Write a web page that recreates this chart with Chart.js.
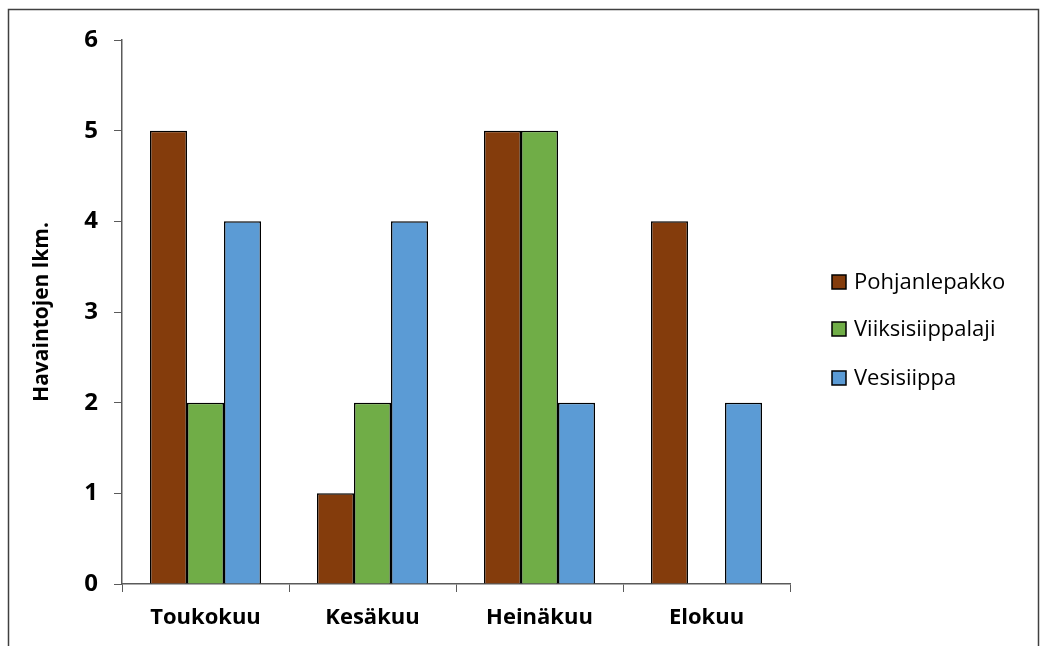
<!DOCTYPE html>
<html lang="fi">
<head>
<meta charset="UTF-8" />
<title>Havainnot</title>
<script src="https://cdn.jsdelivr.net/npm/chart.js"></script>
<style>
    body { margin: 0; background: #fff; }
    .wrap { position: relative; width: 1040px; height: 646px; }
</style>
</head>
<body>
<div class="wrap"><canvas id="chart" width="1040" height="646"></canvas></div>
<script>
    const months = ['Toukokuu', 'Kesäkuu', 'Heinäkuu', 'Elokuu'];
    const pohjanlepakko = [5, 1, 5, 4];
    const viiksisiippalaji = [2, 2, 5, 0];
    const vesisiippa = [4, 4, 2, 2];
    const yTicks = [0, 1, 2, 3, 4, 5, 6];

    const font = "'Open Sans', Lato, sans-serif";
    const axisColor = '#5a5a5a';

    // frame + legend drawn by hand so they land where the original has them
    const framePlugin = {
        id: 'frame',
        afterDraw(chart) {
            const c = chart.ctx;
            c.save();
            c.strokeStyle = '#404040';
            c.lineWidth = 1.5;
            c.strokeRect(8.5, 9.5, 1030, 700);

            const rows = [282, 329, 378];
            chart.data.datasets.forEach((ds, i) => {
                const y = rows[i];
                c.fillStyle = ds.backgroundColor;
                c.fillRect(832, y - 7, 14, 14);
                c.strokeStyle = '#000';
                c.lineWidth = 1.5;
                c.strokeRect(832, y - 7, 14, 14);
                c.fillStyle = '#000';
                c.font = '22px ' + font;
                c.textBaseline = 'middle';
                c.fillText(ds.label, 854, y + 1);
            });
            c.restore();
        }
    };

    new Chart(document.getElementById('chart'), {
        type: 'bar',
        data: {
            labels: months,
            datasets: [
                { label: 'Pohjanlepakko', data: pohjanlepakko, backgroundColor: '#843C0C', borderColor: '#000', borderWidth: 1.5 },
                { label: 'Viiksisiippalaji', data: viiksisiippalaji, backgroundColor: '#70AD47', borderColor: '#000', borderWidth: 1.5 },
                { label: 'Vesisiippa', data: vesisiippa, backgroundColor: '#5B9BD5', borderColor: '#000', borderWidth: 1.5 }
            ]
        },
        options: {
            responsive: false,
            animation: false,
            layout: { padding: { left: 0, top: 40, right: 250, bottom: 0 } },
            datasets: { bar: { categoryPercentage: 0.665, barPercentage: 1 } },
            plugins: { legend: { display: false }, tooltip: { enabled: false } },
            scales: {
                x: {
                    offset: true,
                    grid: { offset: true, drawOnChartArea: false, tickLength: 8, color: axisColor },
                    border: { color: axisColor, width: 1.5 },
                    ticks: { color: '#000', padding: 13, font: { family: font, size: 22, weight: 'bold' } },
                    afterFit(s) { s.height = 62; }
                },
                y: {
                    min: 0,
                    max: 6,
                    afterBuildTicks(s) { s.ticks = yTicks.map(v => ({ value: v })); },
                    grid: { drawOnChartArea: false, tickLength: 8, color: axisColor },
                    border: { color: axisColor, width: 1.5 },
                    ticks: { color: '#000', padding: 16, font: { family: font, size: 24, weight: 'bold' } },
                    title: {
                        display: true,
                        text: 'Havaintojen lkm.',
                        color: '#000',
                        font: { family: font, size: 21, weight: 'bold' },
                        padding: { top: 29, bottom: 0 }
                    },
                    afterFit(s) { s.width = 122; }
                }
            }
        },
        plugins: [framePlugin]
    });
</script>
</body>
</html>
